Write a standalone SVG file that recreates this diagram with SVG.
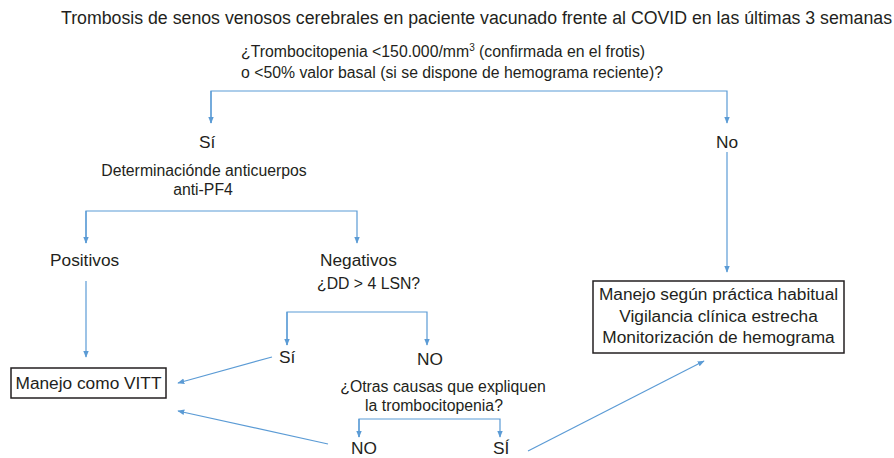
<svg xmlns="http://www.w3.org/2000/svg" width="894" height="458" viewBox="0 0 894 458">
<style>
text{font-family:"Liberation Sans",Arial,sans-serif;fill:#231f20}
.t{font-size:17.6px}
.q{font-size:15.8px}
.n{font-size:17.3px}
.c{fill:none;stroke:#5b9bd5;stroke-width:1.2}
.box{fill:#fff;stroke:#231f20;stroke-width:1.5}
</style>
<defs>
<marker id="a" viewBox="0 0 10 10" refX="9" refY="5" markerWidth="7" markerHeight="7" markerUnits="userSpaceOnUse" orient="auto">
<path d="M0,1 L10,5 L0,9 z" fill="#5b9bd5"/>
</marker>
</defs>
<rect width="894" height="458" fill="#fff"/>
<text class="t" x="61" y="24" textLength="831" lengthAdjust="spacingAndGlyphs">Trombosis de senos venosos cerebrales en paciente vacunado frente al COVID en las últimas 3 semanas</text>
<g id="q1">
<text class="q" x="241" y="57">¿Trombocitopenia &lt;150.000/mm<tspan font-size="10" dy="-6">3</tspan><tspan dy="6"> (confirmada en el frotis)</tspan></text>
<text class="q" x="241" y="78">o &lt;50% valor basal (si se dispone de hemograma reciente)?</text>
</g>
<g id="si1"><text class="n" x="199" y="148">Sí</text></g>
<g id="no1"><text class="n" x="716" y="148">No</text></g>
<g id="q2">
<text class="q" x="204" y="176" text-anchor="middle">Determinaciónde anticuerpos</text>
<text class="q" x="203" y="195" text-anchor="middle">anti-PF4</text>
</g>
<g id="pos"><text class="n" x="50" y="266">Positivos</text></g>
<g id="neg"><text class="n" x="320" y="266">Negativos</text></g>
<g id="q3"><text class="q" x="317" y="289">¿DD &gt; 4 LSN?</text></g>
<g id="si2"><text class="n" x="279" y="363">Sí</text></g>
<g id="no2"><text class="n" x="417" y="365">NO</text></g>
<g id="vitt">
<rect class="box" x="11" y="368" width="155" height="30"/>
<text class="n" x="88.5" y="389" text-anchor="middle">Manejo como VITT</text>
</g>
<g id="q4">
<text class="q" x="443" y="392" text-anchor="middle">¿Otras causas que expliquen</text>
<text class="q" x="434" y="411" text-anchor="middle">la trombocitopenia?</text>
</g>
<g id="no3"><text class="n" x="351" y="454">NO</text></g>
<g id="si3"><text class="n" x="493" y="454">SÍ</text></g>
<g id="habitual">
<rect class="box" x="593" y="281" width="251" height="72"/>
<text class="n" x="718.5" y="300" text-anchor="middle">Manejo según práctica habitual</text>
<text class="n" x="718.5" y="322" text-anchor="middle">Vigilancia clínica estrecha</text>
<text class="n" x="718.5" y="343" text-anchor="middle">Monitorización de hemograma</text>
</g>
<g id="connectors">
<path class="c" d="M211,123 V91 H727 V123" marker-end="url(#a)"/>
<path class="c" d="M211,91 V123" marker-end="url(#a)"/>
<path class="c" d="M727,152 V272" marker-end="url(#a)"/>
<path class="c" d="M86,243 V211 H357 V243" marker-end="url(#a)"/>
<path class="c" d="M86,211 V243" marker-end="url(#a)"/>
<path class="c" d="M86,281 V357" marker-end="url(#a)"/>
<path class="c" d="M287,345 V312 H427 V345" marker-end="url(#a)"/>
<path class="c" d="M287,312 V345" marker-end="url(#a)"/>
<path class="c" d="M272,357 L178,383" marker-end="url(#a)"/>
<path class="c" d="M328,444 L178,411" marker-end="url(#a)"/>
<path class="c" d="M359,437 V419 H500 V437" marker-end="url(#a)"/>
<path class="c" d="M359,419 V437" marker-end="url(#a)"/>
<path class="c" d="M528,451 L704,361" marker-end="url(#a)"/>
</g>
</svg>
